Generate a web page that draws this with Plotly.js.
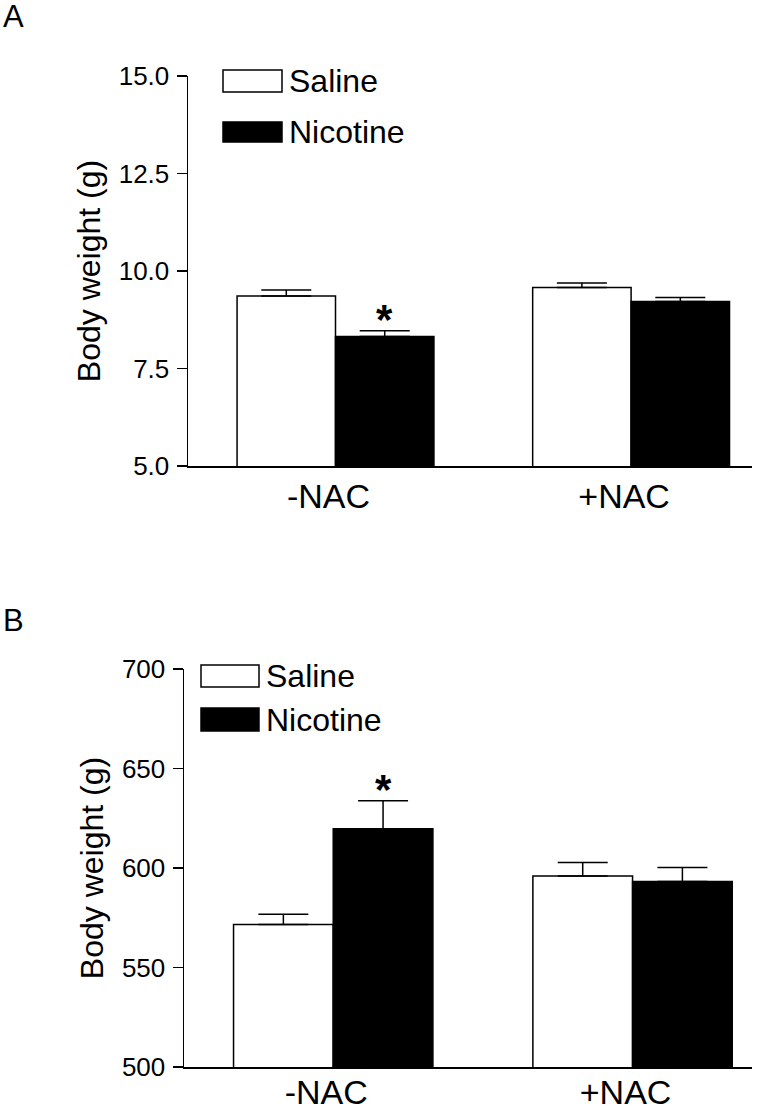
<!DOCTYPE html>
<html>
<head>
<meta charset="utf-8">
<script src="https://cdn.plot.ly/plotly-3.0.1.min.js"></script>
<style>
html,body{margin:0;padding:0;background:#fff;}
#chart{width:782px;height:1114px;}
</style>
</head>
<body>
<div id="chart"></div>
<script>
// ---- data ----
var categories = ['-NAC', '+NAC'];
var seriesNames = ['Saline', 'Nicotine'];

// Panel A: body weight (g)
var salineA = [9.36, 9.58];
var salineAErr = [0.15, 0.11];
var nicotineA = [8.32, 9.22];
var nicotineAErr = [0.15, 0.10];
var yTicksA = [5.0, 7.5, 10.0, 12.5, 15.0];
var yTickLabelsA = ['5.0', '7.5', '10.0', '12.5', '15.0'];

// Panel B: body weight (g)
var salineB = [571.6, 596.0];
var salineBErr = [5.2, 6.8];
var nicotineB = [619.7, 593.2];
var nicotineBErr = [14.1, 7.1];
var yTicksB = [500, 550, 600, 650, 700];
var yTickLabelsB = ['500', '550', '600', '650', '700'];

var yTitle = 'Body weight (g)';
var panelLabels = ['A', 'B'];
var sigMark = '*';

// ---- helpers ----
var FONT = 'Arial, "Liberation Sans", Helvetica, sans-serif';
var W = 782, H = 1114;
function px2x(p){ return p / W; }
function px2y(p){ return 1 - p / H; }

function barTrace(name, y, err, fill, xa, ya){
  return {
    type: 'bar', name: name, x: categories, y: y,
    xaxis: xa, yaxis: ya, showlegend: false,
    marker: {color: fill, line: {color: '#000', width: 1.5}},
    error_y: {type: 'data', symmetric: false, array: err,
              arrayminus: err.map(function(){return 0;}),
              color: '#000', thickness: 1.5, width: 25}
  };
}

var data = [
  barTrace(seriesNames[0], salineA, salineAErr, '#ffffff', 'x', 'y'),
  barTrace(seriesNames[1], nicotineA, nicotineAErr, '#000000', 'x', 'y'),
  barTrace(seriesNames[0], salineB, salineBErr, '#ffffff', 'x2', 'y2'),
  barTrace(seriesNames[1], nicotineB, nicotineBErr, '#000000', 'x2', 'y2')
];

var tickFont = {family: FONT, size: 26, color: '#000'};
var catFont = {family: FONT, size: 34, color: '#000'};
var titleFont = {family: FONT, size: 32, color: '#000'};

function yAxis(domainPx, range, ticks, labels, anchor){
  return {
    domain: [px2y(domainPx[1]), px2y(domainPx[0])],
    range: range, anchor: anchor,
    tickmode: 'array', tickvals: ticks, ticktext: labels,
    ticks: 'outside', ticklen: 10, tickwidth: 1.5, tickcolor: '#000',
    showline: true, linecolor: '#000', linewidth: 1.5,
    showgrid: false, zeroline: false,
    tickfont: tickFont, ticklabelstandoff: 2,
    title: {text: yTitle, font: titleFont, standoff: 8}
  };
}
function xAxis(domainPx, range, anchor, standoff){
  return {
    domain: [px2x(domainPx[0]), px2x(domainPx[1])],
    range: range, anchor: anchor, type: 'category',
    showline: true, linecolor: '#000', linewidth: 1.5,
    ticks: '', showgrid: false, zeroline: false,
    tickfont: catFont, ticklabelshift: -7, ticklabelstandoff: standoff
  };
}

// legend drawn as swatches + text
function legendItems(boxes){
  var shapes = [], ann = [];
  boxes.forEach(function(b, i){
    shapes.push({type: 'rect', xref: 'paper', yref: 'paper',
      x0: px2x(b[0]), x1: px2x(b[1]), y0: px2y(b[3]), y1: px2y(b[2]),
      fillcolor: i === 0 ? '#ffffff' : '#000000',
      line: {color: '#000', width: 1.5}});
    ann.push({xref: 'paper', yref: 'paper', x: px2x(b[1] + 5), y: px2y((b[2] + b[3]) / 2),
      xanchor: 'left', yanchor: 'middle', showarrow: false,
      text: seriesNames[i], font: {family: FONT, size: 32, color: '#000'}});
  });
  return {shapes: shapes, ann: ann};
}

var legA = legendItems([[223, 282, 70, 92], [223, 282, 122, 142]]);
var legB = legendItems([[201, 259, 665, 687], [201, 259, 708, 731]]);

var annotations = legA.ann.concat(legB.ann).concat([
  {xref: 'paper', yref: 'paper', x: px2x(1), y: px2y(0), xanchor: 'left', yanchor: 'top',
   showarrow: false, text: panelLabels[0], yshift: 3, font: {family: FONT, size: 31, color: '#000'}},
  {xref: 'paper', yref: 'paper', x: px2x(1), y: px2y(601), xanchor: 'left', yanchor: 'top',
   showarrow: false, text: panelLabels[1], font: {family: FONT, size: 31, color: '#000'}},
  {xref: 'x', yref: 'y', x: 0.167, y: nicotineA[0] + nicotineAErr[0], xanchor: 'center', yanchor: 'bottom',
   showarrow: false, text: '<b>' + sigMark + '</b>', yshift: -14, font: {family: FONT, size: 42, color: '#000'}},
  {xref: 'x2', yref: 'y2', x: 0.167, y: nicotineB[0] + nicotineBErr[0], xanchor: 'center', yanchor: 'bottom',
   showarrow: false, text: '<b>' + sigMark + '</b>', yshift: -14, font: {family: FONT, size: 42, color: '#000'}}
]);

var layout = {
  width: W, height: H,
  margin: {l: 0, r: 0, t: 0, b: 0},
  paper_bgcolor: '#fff', plot_bgcolor: '#fff',
  barmode: 'group', bargap: 0.334, bargroupgap: 0,
  showlegend: false,
  font: {family: FONT, color: '#000'},
  xaxis: xAxis([188, 752], [-0.499, 1.409], 'y', 0),
  yaxis: yAxis([76, 466], [5, 15], yTicksA, yTickLabelsA, 'x'),
  xaxis2: xAxis([184, 752], [-0.4985, 1.399], 'y2', -5),
  yaxis2: yAxis([669, 1067], [500, 700], yTicksB, yTickLabelsB, 'x2'),
  shapes: legA.shapes.concat(legB.shapes),
  annotations: annotations
};

Plotly.newPlot('chart', data, layout, {displayModeBar: false, staticPlot: true});
</script>
</body>
</html>
